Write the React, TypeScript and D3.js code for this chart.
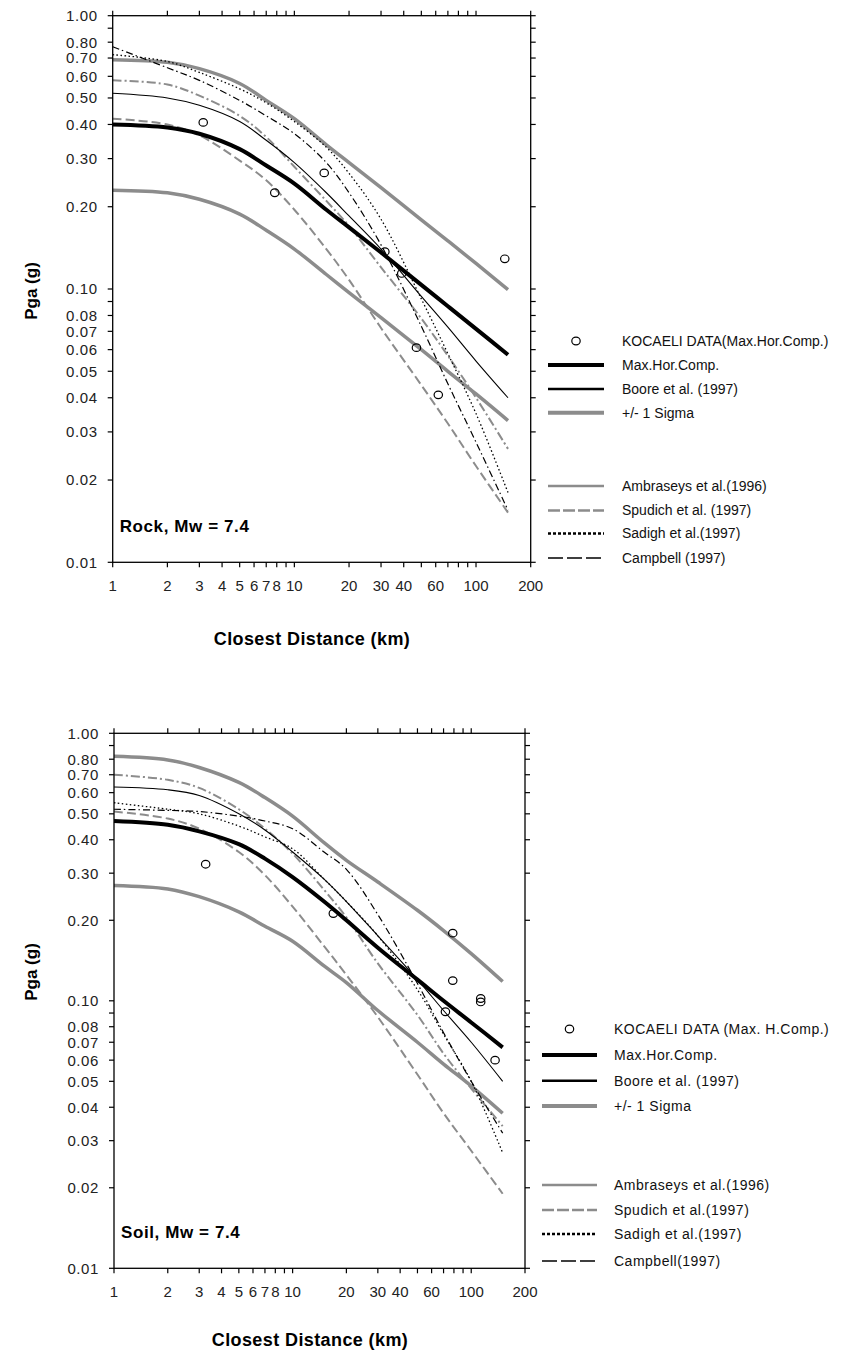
import React from "react";
import * as d3 from "d3";

// ---------- data ----------
const DIST = [1, 2, 3, 5, 7, 10, 15, 20, 30, 50, 70, 100, 150];

// Rock
const rockMax = [0.40, 0.39, 0.37, 0.325, 0.283, 0.243, 0.195, 0.168, 0.136, 0.1035, 0.0865, 0.0715, 0.0575];
const rockUpper = [0.69, 0.675, 0.64, 0.565, 0.49, 0.42, 0.337, 0.29, 0.235, 0.179, 0.15, 0.124, 0.0995];
const rockLower = [0.23, 0.225, 0.213, 0.188, 0.164, 0.14, 0.113, 0.097, 0.0785, 0.06, 0.05, 0.0413, 0.033];
const rockBoore = [0.52, 0.50, 0.47, 0.41, 0.35, 0.29, 0.225, 0.185, 0.14, 0.094, 0.0725, 0.0545, 0.040];
const rockAmbraseys = [0.58, 0.56, 0.51, 0.43, 0.36, 0.28, 0.21, 0.17, 0.12, 0.078, 0.057, 0.040, 0.026];
const rockSpudich = [0.42, 0.40, 0.365, 0.295, 0.25, 0.195, 0.14, 0.108, 0.072, 0.0445, 0.0322, 0.0225, 0.0152];
const rockSadigh = [0.72, 0.68, 0.62, 0.54, 0.48, 0.41, 0.33, 0.265, 0.18, 0.092, 0.058, 0.035, 0.018];
const rockCampbell = [0.77, 0.645, 0.58, 0.49, 0.43, 0.37, 0.29, 0.225, 0.145, 0.073, 0.045, 0.0275, 0.0155];
const rockObsDist = [3.15, 7.8, 14.6, 31.5, 39, 47, 62, 144];
const rockObsPga = [0.407, 0.225, 0.266, 0.137, 0.114, 0.061, 0.041, 0.129];

// Soil
const soilMax = [0.47, 0.455, 0.43, 0.385, 0.34, 0.29, 0.235, 0.20, 0.158, 0.12, 0.10, 0.083, 0.067];
const soilUpper = [0.82, 0.795, 0.745, 0.655, 0.575, 0.49, 0.39, 0.335, 0.278, 0.218, 0.183, 0.15, 0.118];
const soilLower = [0.27, 0.262, 0.245, 0.215, 0.19, 0.167, 0.135, 0.117, 0.092, 0.07, 0.058, 0.048, 0.038];
const soilBoore = [0.63, 0.615, 0.585, 0.50, 0.435, 0.36, 0.285, 0.235, 0.175, 0.12, 0.092, 0.07, 0.05];
const soilAmbraseys = [0.70, 0.67, 0.625, 0.52, 0.44, 0.355, 0.26, 0.205, 0.138, 0.0885, 0.0635, 0.047, 0.034];
const soilSpudich = [0.51, 0.48, 0.44, 0.36, 0.295, 0.225, 0.16, 0.125, 0.087, 0.053, 0.038, 0.0275, 0.019];
const soilSadigh = [0.55, 0.52, 0.50, 0.45, 0.41, 0.37, 0.285, 0.235, 0.175, 0.11, 0.075, 0.05, 0.027];
const soilCampbell = [0.52, 0.515, 0.51, 0.49, 0.47, 0.44, 0.36, 0.31, 0.21, 0.116, 0.076, 0.05, 0.032];
const soilObsDist = [3.26, 16.9, 71.7, 78.8, 78.8, 113, 113, 136];
const soilObsPga = [0.324, 0.212, 0.091, 0.179, 0.119, 0.102, 0.099, 0.060];

// Axis ticks
const X_TICKS = [1, 2, 3, 4, 5, 6, 7, 8, 9, 10, 20, 30, 40, 50, 60, 70, 80, 90, 100, 200];
const X_LABELS = [1, 2, 3, 4, 5, 6, 7, 8, 10, 20, 30, 40, 60, 100, 200];
const Y_TICKS = [1, 0.9, 0.8, 0.7, 0.6, 0.5, 0.4, 0.3, 0.2, 0.1, 0.09, 0.08, 0.07, 0.06, 0.05, 0.04, 0.03, 0.02, 0.01];
const Y_LABELS = [1, 0.8, 0.7, 0.6, 0.5, 0.4, 0.3, 0.2, 0.1, 0.08, 0.07, 0.06, 0.05, 0.04, 0.03, 0.02, 0.01];

const rockLegend = [
  "KOCAELI DATA(Max.Hor.Comp.)",
  "Max.Hor.Comp.",
  "Boore et al. (1997)",
  "+/- 1 Sigma",
  "Ambraseys et al.(1996)",
  "Spudich et al. (1997)",
  "Sadigh et al.(1997)",
  "Campbell (1997)",
];
const soilLegend = [
  "KOCAELI DATA (Max. H.Comp.)",
  "Max.Hor.Comp.",
  "Boore et al. (1997)",
  "+/- 1 Sigma",
  "Ambraseys et al.(1996)",
  "Spudich et al.(1997)",
  "Sadigh et al.(1997)",
  "Campbell(1997)",
];

const GRAY = "#8c8c8c";
const FONT = "'Liberation Sans', Arial, sans-serif";

type PanelCfg = {
  left: number; right: number; top: number; bottom: number;
  series: number[][]; // max, upper, lower, boore, amb, spud, sadigh, camp
  obsD: number[]; obsV: number[];
  tag: string; titleX: number; titleY: number; ylabY: number;
  legend: string[]; legX0: number; legX1: number; legTextX: number; legRows: number[];
  legSpacing: number;
};

function Panel({ c }: { c: PanelCfg }) {
  const x = d3.scaleLog().domain([1, 200]).range([c.left, c.right]);
  const y = d3.scaleLog().domain([0.01, 1]).range([c.bottom, c.top]);
  const line = d3
    .line<[number, number]>()
    .x((d) => x(d[0]))
    .y((d) => y(d[1]))
    .curve(d3.curveCatmullRom.alpha(0.5));
  const path = (vals: number[]) => line(DIST.map((dd, i) => [dd, vals[i]] as [number, number])) || "";
  const [mx, up, lo, bo, am, sp, sa, ca] = c.series;
  const styles = [
    { d: up, stroke: GRAY, w: 3.5, dash: "" },
    { d: lo, stroke: GRAY, w: 3.5, dash: "" },
    { d: am, stroke: GRAY, w: 2, dash: "9,3,2,3" },
    { d: sp, stroke: GRAY, w: 2, dash: "9,4" },
    { d: sa, stroke: "#000", w: 1.3, dash: "1.5,2.5" },
    { d: ca, stroke: "#000", w: 1.2, dash: "7,3,1.5,3" },
    { d: bo, stroke: "#000", w: 1.1, dash: "" },
    { d: mx, stroke: "#000", w: 4, dash: "" },
  ];
  const legStyles = [
    null,
    { stroke: "#000", w: 4, dash: "" },
    { stroke: "#000", w: 2.5, dash: "" },
    { stroke: GRAY, w: 4, dash: "" },
    { stroke: GRAY, w: 2.5, dash: "" },
    { stroke: GRAY, w: 2.5, dash: "12,3" },
    { stroke: "#000", w: 2.5, dash: "3,2" },
    { stroke: "#000", w: 1.5, dash: "15,4" },
  ];
  const axisLabelY = c.bottom + 29;
  return (
    <g fontFamily={FONT}>
      {styles.map((s, i) => (
        <path key={i} d={path(s.d)} fill="none" stroke={s.stroke} strokeWidth={s.w}
          strokeDasharray={s.dash || undefined} />
      ))}
      {c.obsD.map((dd, i) => (
        <ellipse key={i} cx={x(dd)} cy={y(c.obsV[i])} rx={4.2} ry={3.8} fill="none" stroke="#000" strokeWidth={1.2} />
      ))}
      <rect x={c.left} y={c.top} width={c.right - c.left} height={c.bottom - c.top} fill="none" stroke="#000" strokeWidth={1.3} />
      {X_TICKS.map((t) => (
        <g key={"xt" + t} stroke="#000" strokeWidth={1.2}>
          <line x1={x(t)} x2={x(t)} y1={c.bottom} y2={c.bottom + 5} />
          <line x1={x(t)} x2={x(t)} y1={c.top} y2={c.top - 5} />
        </g>
      ))}
      {Y_TICKS.map((t) => (
        <g key={"yt" + t} stroke="#000" strokeWidth={1.2}>
          <line x1={c.left - 5} x2={c.left} y1={y(t)} y2={y(t)} />
          <line x1={c.right} x2={c.right + 5} y1={y(t)} y2={y(t)} />
        </g>
      ))}
      {X_LABELS.map((t) => (
        <text key={"xl" + t} x={x(t)} y={axisLabelY} textAnchor="middle" fontSize={15} fill="#222">{t}</text>
      ))}
      {Y_LABELS.map((t) => (
        <text key={"yl" + t} x={c.left - 15} y={y(t)} dy="0.36em" textAnchor="end" fontSize={15}
          letterSpacing={0.6} fill="#222">{t.toFixed(2)}</text>
      ))}
      <text x={c.left + 7} y={c.bottom - 30} fontSize={17} fontWeight="bold" letterSpacing={0.6}>{c.tag}</text>
      <text x={c.titleX} y={c.titleY} textAnchor="middle" fontSize={18} fontWeight="bold" letterSpacing={0.4}>
        Closest Distance (km)
      </text>
      <text transform={`translate(37,${c.ylabY}) rotate(-90)`} textAnchor="middle" fontSize={17} fontWeight="bold">
        Pga (g)
      </text>
      {c.legend.map((lab, i) => {
        const yy = c.legRows[i];
        const s = legStyles[i];
        return (
          <g key={"lg" + i}>
            {s ? (
              <line x1={c.legX0} x2={c.legX1} y1={yy} y2={yy} stroke={s.stroke} strokeWidth={s.w}
                strokeDasharray={s.dash || undefined} />
            ) : (
              <ellipse cx={(c.legX0 + c.legX1) / 2} cy={yy} rx={4.2} ry={3.8} fill="none" stroke="#000" strokeWidth={1.2} />
            )}
            <text x={c.legTextX} y={yy} dy="0.35em" fontSize={14} letterSpacing={c.legSpacing} fill="#111">{lab}</text>
          </g>
        );
      })}
    </g>
  );
}

export default function App() {
  const rock: PanelCfg = {
    left: 112.7, right: 530.7, top: 15.7, bottom: 562.3,
    series: [rockMax, rockUpper, rockLower, rockBoore, rockAmbraseys, rockSpudich, rockSadigh, rockCampbell],
    obsD: rockObsDist, obsV: rockObsPga,
    tag: "Rock, Mw = 7.4", titleX: 312, titleY: 645, ylabY: 291,
    legend: rockLegend, legX0: 548, legX1: 604, legTextX: 622,
    legRows: [341, 365, 389, 412.7, 486, 510.5, 533.5, 558], legSpacing: 0,
  };
  const soil: PanelCfg = {
    left: 114, right: 525, top: 733.3, bottom: 1268.3,
    series: [soilMax, soilUpper, soilLower, soilBoore, soilAmbraseys, soilSpudich, soilSadigh, soilCampbell],
    obsD: soilObsDist, obsV: soilObsPga,
    tag: "Soil, Mw = 7.4", titleX: 310, titleY: 1346, ylabY: 972,
    legend: soilLegend, legX0: 542, legX1: 597, legTextX: 614,
    legRows: [1029, 1055, 1080.7, 1106, 1185, 1210, 1234, 1261], legSpacing: 0.5,
  };
  return (
    <svg width={853} height={1358} style={{ position: "absolute", left: 0, top: 0, background: "#fff" }}>
      <rect width={853} height={1358} fill="#fff" />
      <Panel c={rock} />
      <Panel c={soil} />
    </svg>
  );
}
